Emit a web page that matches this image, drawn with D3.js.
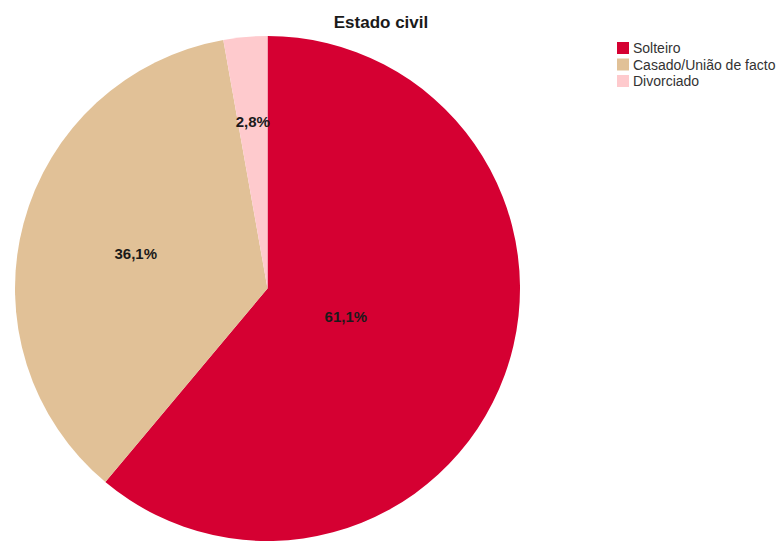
<!DOCTYPE html>
<html>
<head>
<meta charset="utf-8">
<script src="https://cdn.jsdelivr.net/npm/d3@7"></script>
<style>
  html, body { margin: 0; padding: 0; background: #ffffff; }
  svg { display: block; font-family: "Liberation Sans", Arial, sans-serif; }
</style>
</head>
<body>
<svg id="chart" width="779" height="541"></svg>
<script>
// Marital status breakdown (percentages)
const categories = ["Solteiro", "Casado/União de facto", "Divorciado"];
const values = [61.1, 36.1, 2.8];
const title = "Estado civil";

// Styling kept apart from the data
const colors = ["#d50032", "#e1c197", "#fecacd"];
const labelRadiusFrac = [0.33, 0.54, 0.665];

const W = 779, H = 541;
const cx = 267.5, cy = 288.5, R = 252.5;

const svg = d3.select("#chart");

const fmt = v => d3.format(".1f")(v).replace(".", ",") + "%";

const pie = d3.pie().sort(null).value(d => d.value);
const data = categories.map((c, i) => ({ cat: c, value: values[i], i }));
const arcs = pie(data);

const arc = d3.arc().innerRadius(0).outerRadius(R);

const g = svg.append("g").attr("transform", `translate(${cx},${cy})`);

g.selectAll("path.slice")
  .data(arcs)
  .join("path")
  .attr("class", "slice")
  .attr("d", arc)
  .attr("fill", d => colors[d.data.i]);

// Percentage labels at per-slice radii
g.selectAll("text.pct")
  .data(arcs)
  .join("text")
  .attr("class", "pct")
  .attr("transform", d => {
    const r = R * labelRadiusFrac[d.data.i];
    const la = d3.arc().innerRadius(r).outerRadius(r);
    const [x, y] = la.centroid(d);
    return `translate(${x},${y})`;
  })
  .attr("text-anchor", "middle")
  .attr("dominant-baseline", "central")
  .attr("font-size", 15)
  .attr("font-weight", "bold")
  .attr("fill", "#1a1a1a")
  .text(d => fmt(d.data.value));

// Title
svg.append("text")
  .attr("x", 381)
  .attr("y", 28)
  .attr("text-anchor", "middle")
  .attr("font-size", 17)
  .attr("font-weight", "bold")
  .attr("fill", "#1a1a1a")
  .text(title);

// Legend
const legend = svg.append("g").attr("transform", "translate(617,42)");
const rows = legend.selectAll("g.row")
  .data(categories)
  .join("g")
  .attr("class", "row")
  .attr("transform", (d, i) => `translate(0,${i * 16.5})`);

rows.append("rect")
  .attr("width", 12)
  .attr("height", 12)
  .attr("fill", (d, i) => colors[i]);

rows.append("text")
  .attr("x", 16)
  .attr("y", 11)
  .attr("font-size", 14)
  .attr("fill", "#333")
  .text(d => d);
</script>
</body>
</html>
